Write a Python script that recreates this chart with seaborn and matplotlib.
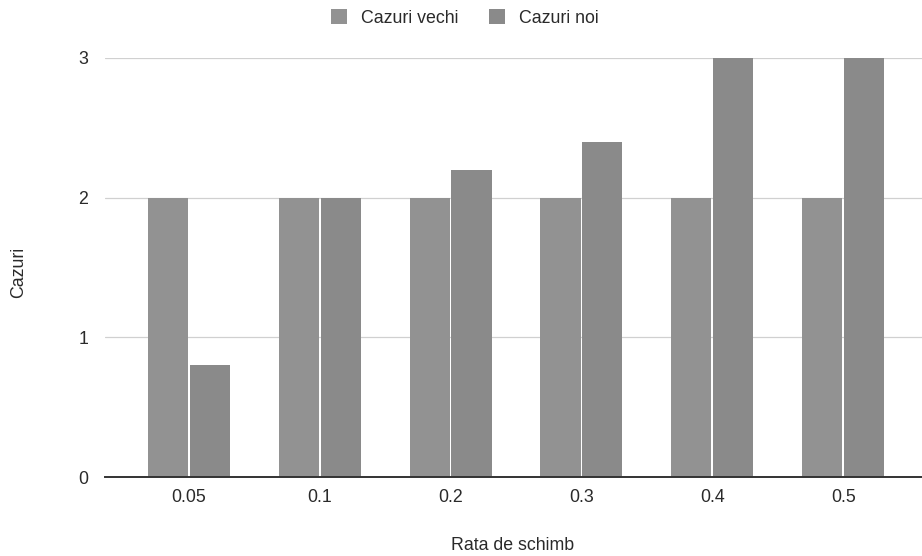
import matplotlib
matplotlib.use("Agg")
import matplotlib.pyplot as plt
import seaborn as sns
import pandas as pd
from matplotlib.patches import Patch

categories = ["0.05", "0.1", "0.2", "0.3", "0.4", "0.5"]
cazuri_vechi = [2, 2, 2, 2, 2, 2]
cazuri_noi = [0.8, 2, 2.2, 2.4, 3, 3]
series_names = ["Cazuri vechi", "Cazuri noi"]
y_ticks = [0, 1, 2, 3]

sns.set_theme(style="white")
plt.rcParams["font.family"] = ["Liberation Sans", "DejaVu Sans"]

df = pd.DataFrame({
    "Rata": categories * 2,
    "Cazuri": cazuri_vechi + cazuri_noi,
    "Serie": [series_names[0]] * len(categories) + [series_names[1]] * len(categories),
})

colors = {"Cazuri vechi": "#929292", "Cazuri noi": "#8a8a8a"}
FS = 12.8

fig = plt.figure(figsize=(9.22, 5.56), dpi=100)
ax = fig.add_axes([105 / 922, (556 - 477) / 556, (927 - 105) / 922, (477 - 58) / 556])

sns.barplot(data=df, x="Rata", y="Cazuri", hue="Serie", order=categories,
            hue_order=series_names, palette=colors, width=0.64, gap=0.04,
            ax=ax, legend=False, saturation=1, linewidth=0)

ax.set_xlim(-0.64, 5.64)
ax.set_ylim(0, 3)
ax.set_yticks(y_ticks)
ax.yaxis.grid(True, color="#d0d0d0", linewidth=0.9)
ax.set_axisbelow(True)
for s in ["top", "right", "left"]:
    ax.spines[s].set_visible(False)
ax.spines["bottom"].set_color("#333333")
ax.spines["bottom"].set_linewidth(1.4)
ax.tick_params(axis="both", length=0, labelsize=FS, labelcolor="#2a2a2a")
ax.tick_params(axis="x", pad=9)
ax.tick_params(axis="y", pad=12)
ax.set_xlabel("")
ax.set_ylabel("")

fig.text(513 / 922, 1 - 545 / 556, "Rata de schimb", ha="center", va="center",
         fontsize=FS, color="#2a2a2a")
fig.text(19 / 922, 1 - 272 / 556, "Cazuri", ha="center", va="center",
         rotation=90, fontsize=FS, color="#2a2a2a")

handles = [Patch(facecolor=colors[n], edgecolor="none", label=n) for n in series_names]
fig.legend(handles=handles, loc="center", bbox_to_anchor=(465 / 922, 1 - 18 / 556),
           ncol=2, frameon=False, fontsize=FS, handlelength=0.9, handleheight=0.9,
           handletextpad=0.8, columnspacing=1.7, labelcolor="#2a2a2a")

fig.savefig("out.png", dpi=100)
